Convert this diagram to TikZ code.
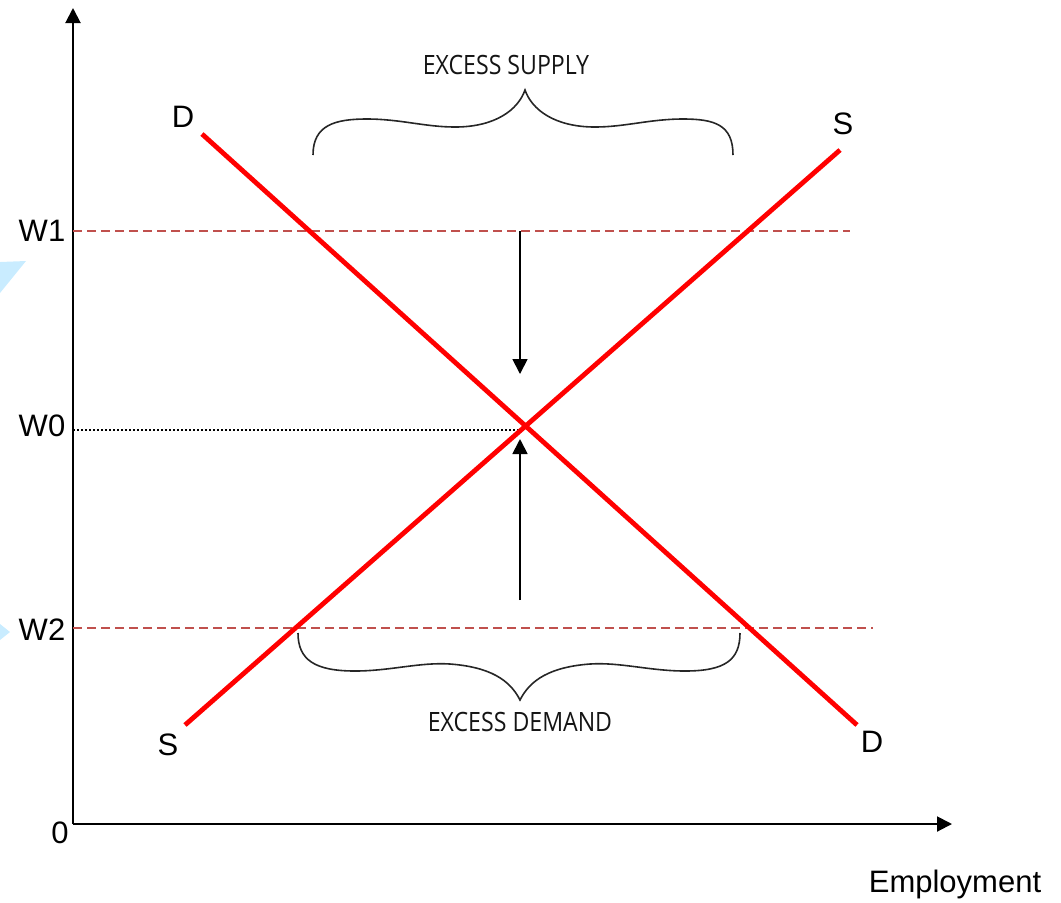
\documentclass[tikz,border=0pt]{standalone}
\usepackage{fontspec}
\setmainfont{Liberation Sans}
\newfontfamily\bracefont{Open Sans}[FakeStretch=0.87]
\usetikzlibrary{arrows.meta,positioning}
\definecolor{CurveRed}{HTML}{FF0000}
\definecolor{WageLine}{HTML}{C0504D}
\definecolor{GlareBlue}{HTML}{C9ECFF}
\tikzset{>={Triangle[length=7.5pt,width=7.5pt]},every node/.style={font=\fontsize{15.5}{18}\selectfont},
 axisline/.style={draw=black,line width=1pt,->},supdem/.style={draw=CurveRed,line width=2.4pt},
 wage/.style={draw=WageLine,line width=0.7pt,dash pattern=on 4.5pt off 2.5pt},
 move/.style={draw=black,line width=0.9pt,->},gapbrace/.style={draw=black!85,line width=0.8pt},
 gaptext/.style={font=\bracefont\fontsize{13.3}{16}\selectfont,text=black!92}}

\begin{document}
\begin{tikzpicture}[x=0.5pt,y=-0.5pt]
\useasboundingbox (0,0) rectangle (1061,902);
% light marks at the left edge
\fill[GlareBlue] (0,262) -- (26,261) -- (0,293) -- cycle;
\fill[GlareBlue] (0,624) -- (10,632) -- (0,640) -- cycle;
% axes
\coordinate (o) at (73,824);
\coordinate (ytop) at (73,8);
\coordinate (xend) at (952,824);
\draw[axisline] (o) -- (ytop);
\draw[axisline] (o) -- (xend);
\node (zero) at (60,833) {0};
\node[anchor=base] (emp) at (955,892) {Employment};
% wage levels
\node (w1) at (42,231) {W1};
\node (w0) at (42,426) {W0};
\node (w2) at (42,630) {W2};
\coordinate (w1a) at (73,231);
\coordinate (w1b) at (850,231);
\coordinate (w2a) at (73,628);
\coordinate (w2b) at (873,628);
\coordinate (w0a) at (73,430);
\coordinate (eq) at (523,430);
\draw[wage] (w1a) -- (w1b);
\draw[wage] (w2a) -- (w2b);
\draw[black,line width=0.6pt,dash pattern=on 1pt off 1pt] (w0a) -- (eq);
% demand and supply
\coordinate (d1) at (202,134);
\coordinate (d2) at (857,725);
\coordinate (s1) at (185,725);
\coordinate (s2) at (840,150);
\draw[supdem] (d1) -- (d2);
\draw[supdem] (s1) -- (s2);
\node (dtop) at (183,117) {D};
\node (dbot) at (872,742) {D};
\node (stop) at (843,124) {S};
\node (sbot) at (168,745) {S};
% pressure on the wage
\coordinate (downa) at (520,231);
\coordinate (downb) at (520,374);
\coordinate (upa) at (520,600);
\coordinate (upb) at (520,439);
\draw[move] (downa) -- (downb);
\draw[move] (upa) -- (upb);
% excess supply and demand
\draw[gapbrace] (313,155) .. controls (313,125) and (335,119) .. (367,119)
 .. controls (400,119) and (425,127) .. (455,127) .. controls (495,127) and (518,110) .. (525,90)
 .. controls (532,110) and (555,127) .. (595,127) .. controls (625,127) and (650,119) .. (683,119)
 .. controls (715,119) and (733,125) .. (733,155);
\draw[gapbrace] (298,633) .. controls (298,660) and (315,671) .. (355,671)
 .. controls (390,671) and (420,662) .. (450,664) .. controls (490,667) and (510,680) .. (520,700)
 .. controls (530,680) and (550,667) .. (590,664) .. controls (620,662) and (650,671) .. (685,671)
 .. controls (725,671) and (740,660) .. (740,633);
\node[gaptext] (xs) at (506,65) {EXCESS SUPPLY};
\node[gaptext] (xd) at (520,722) {EXCESS DEMAND};
\end{tikzpicture}
\end{document}
